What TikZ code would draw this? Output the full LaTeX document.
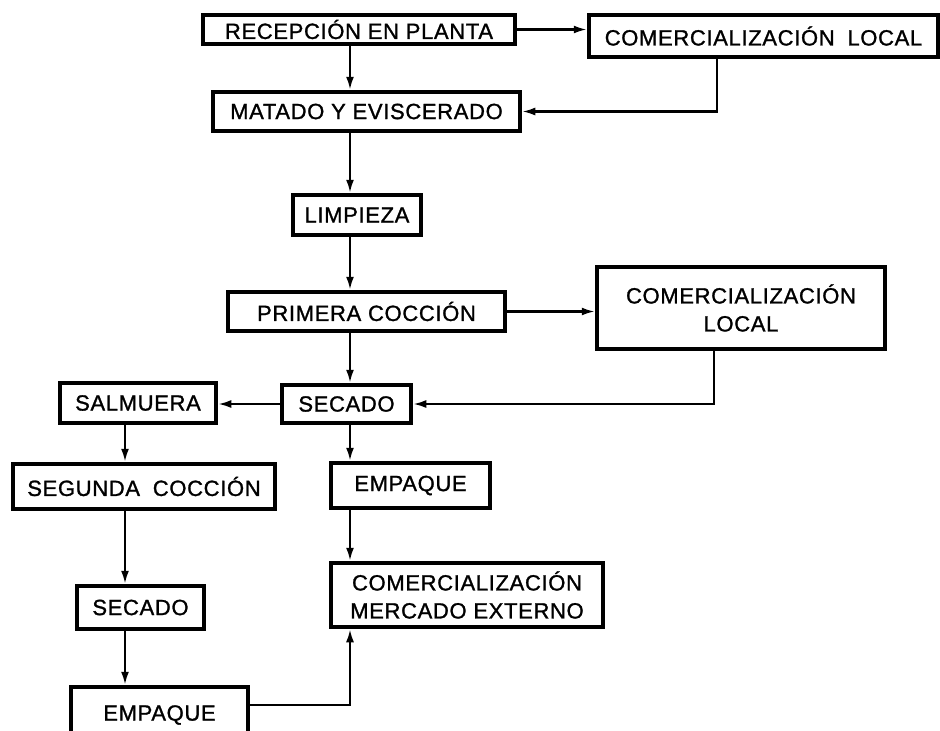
\documentclass[tikz,border=0pt]{standalone}
\usepackage{fontspec}
\newfontfamily\rotulo[LetterSpace=3, FakeBold=1.2]{Liberation Sans}
\usetikzlibrary{arrows.meta}

\begin{document}
\begin{tikzpicture}[->, >={Latex[length=13pt,width=8pt]}, x=1pt, y=-1pt, line width=2.2pt,
    caja/.style={draw, line width=4.5pt, inner sep=0pt, align=center,
      font=\rotulo\fontsize{22}{28}\selectfont}]
  \useasboundingbox (0,0) rectangle (940,731);
  \clip (0,0) rectangle (940,731);

  % Nodes
  \foreach \n/\x/\y/\w/\h/\t in {
      recep/359/29.5/312/29/{RECEPCIÓN EN PLANTA},
      localA/763.5/36/349/42/{COMERCIALIZACIÓN\hspace{6pt} LOCAL},
      matado/366.5/111.5/307/39/{MATADO Y EVISCERADO},
      limpieza/357/215/128/40/{LIMPIEZA},
      coccion/366.5/311.5/277/39/{PRIMERA COCCIÓN},
      localB/741/308/288/82/{COMERCIALIZACIÓN\\LOCAL},
      secado/346.5/404/129/38/{SECADO},
      salmuera/138/403/156/40/{SALMUERA},
      coccionB/144/486.5/262/45/{SEGUNDA\hspace{6pt} COCCIÓN},
      empaque/410.5/485.5/159/45/{EMPAQUE},
      externo/467/595/272/64/{COMERCIALIZACIÓN\\MERCADO EXTERNO},
      secadoB/140.5/607.5/127/43/{SECADO},
      empaqueB/159.5/715/177/56/{EMPAQUE}}
    \node[caja, minimum width=\w pt, minimum height=\h pt] (\n) at (\x,\y) {\t};

  % Columns of the vertical flow
  \coordinate (centro) at (350,0);
  \coordinate (izq) at (125,0);
  \coordinate (bajadaA) at (717,0);
  \coordinate (bajadaB) at (714,0);

  % Edges
  \foreach \a/\b/\col in {recep/matado/centro, matado/limpieza/centro,
      limpieza/coccion/centro, coccion/secado/centro, secado/empaque/centro,
      empaque/externo/centro, salmuera/coccionB/izq, coccionB/secadoB/izq,
      secadoB/empaqueB/izq}
    \draw (\a.south -| \col) -- (\b.north -| \col);

  \draw (recep.east) -- (recep.east -| localA.west);
  \draw (localA.south -| bajadaA) |- (matado.east);
  \draw (coccion.east) -- (coccion.east -| localB.west);
  \draw (localB.south -| bajadaB) |- (secado.east);
  \draw (secado.west) -- (secado.west -| salmuera.east);
  \draw ([yshift=10pt]empaqueB.east) -| (externo.south -| centro);
\end{tikzpicture}
\end{document}
